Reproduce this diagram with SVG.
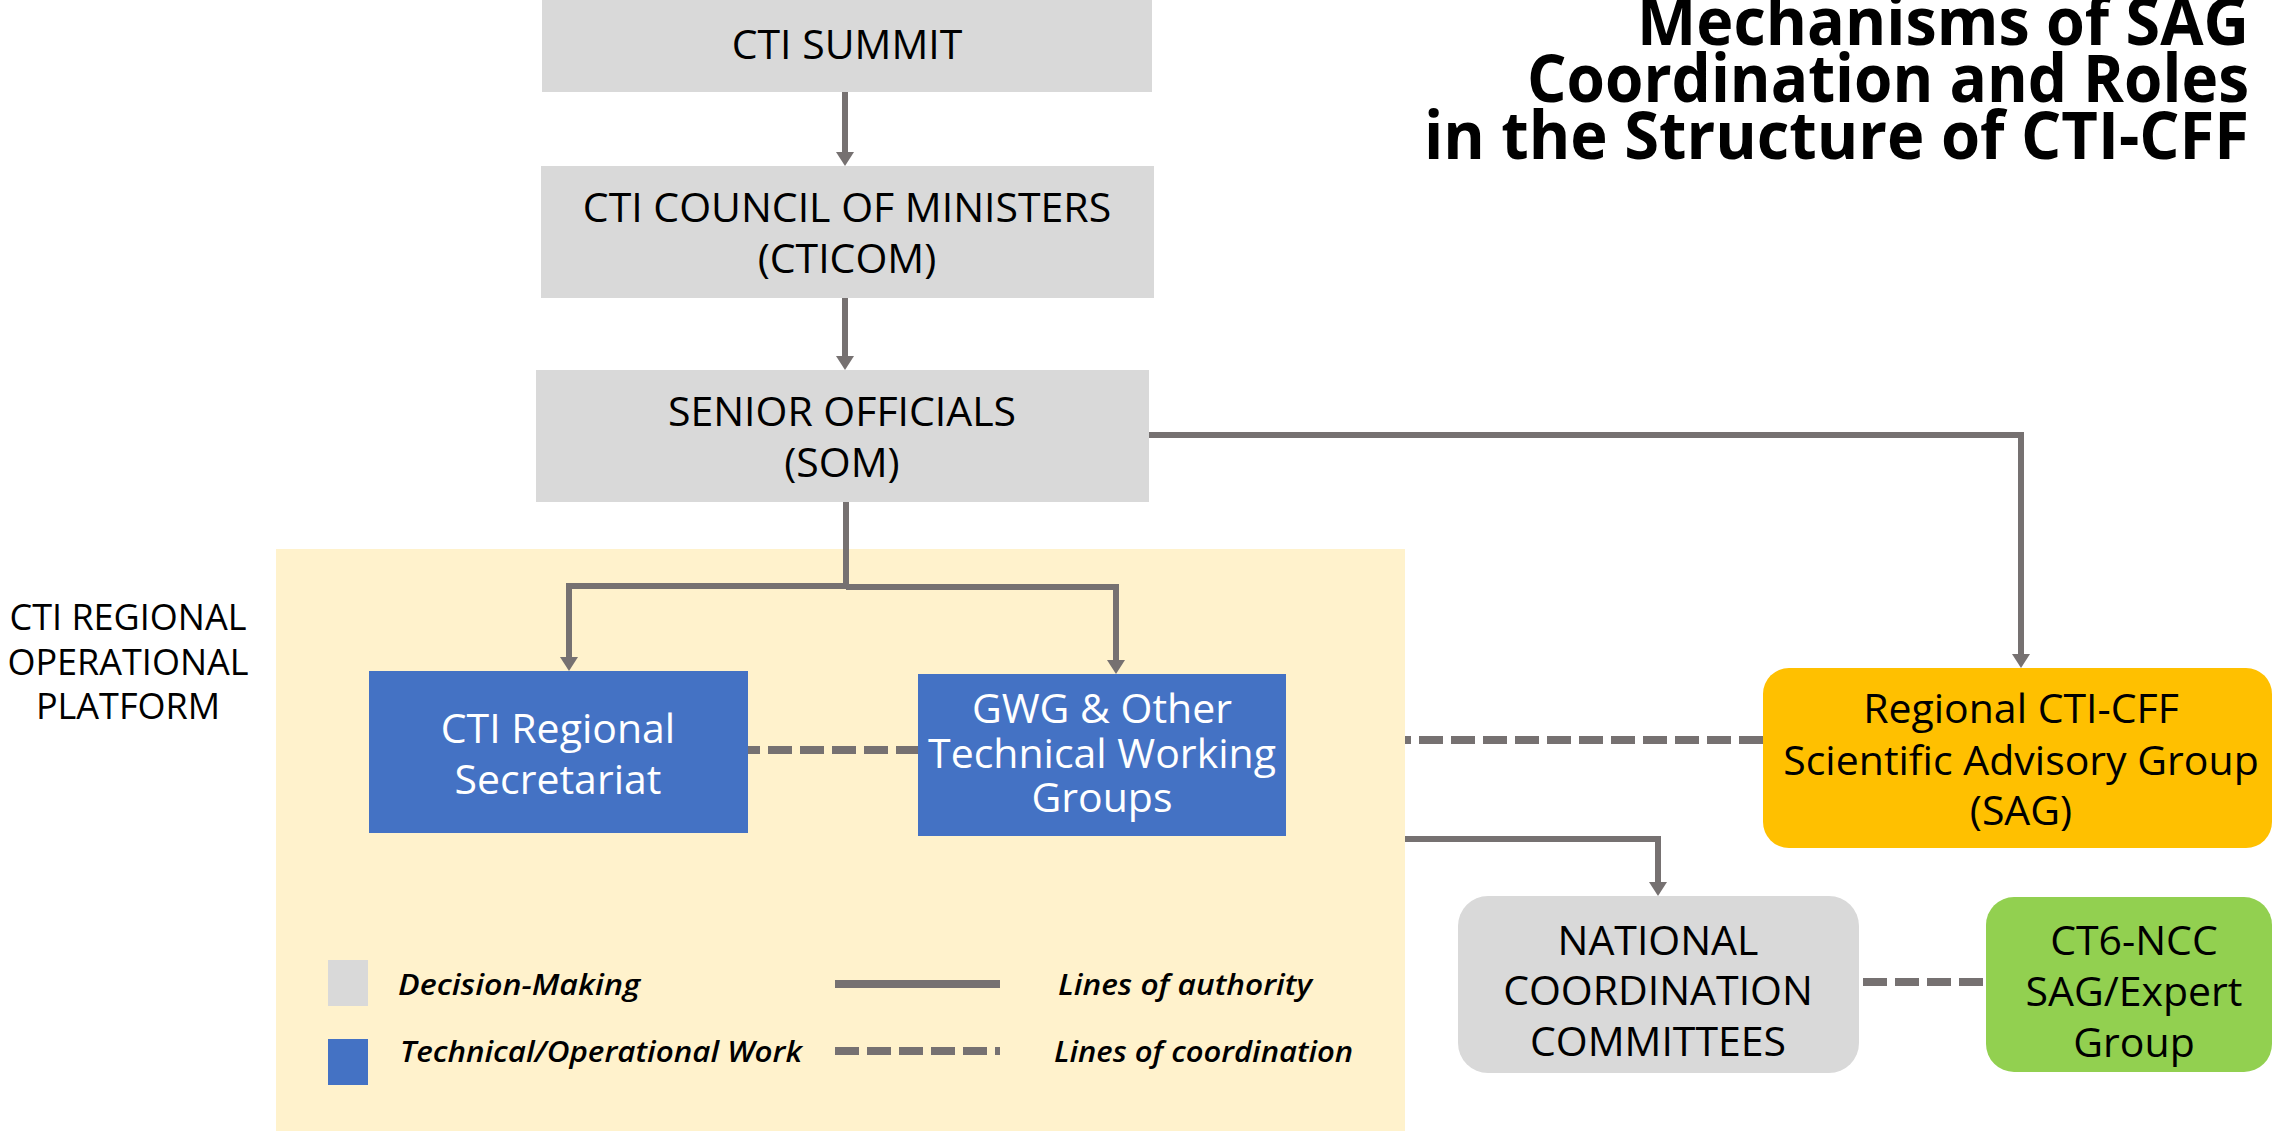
<svg xmlns="http://www.w3.org/2000/svg" width="2273" height="1131" viewBox="0 0 2273 1131">
<defs>
<style>
.t{font-family:"Open Sans","Liberation Sans",sans-serif;font-size:41px;fill:#000;text-anchor:middle}
.w{fill:#fff}
.lbl{font-family:"Open Sans","Liberation Sans",sans-serif;font-size:36px;fill:#000;text-anchor:middle}
.leg{font-family:"Open Sans","Liberation Sans",sans-serif;font-size:29px;font-style:italic;font-weight:600;fill:#000}
.title{font-family:"Open Sans","Liberation Sans",sans-serif;font-size:67px;font-weight:700;fill:#000;text-anchor:end}
.gray{fill:#D9D9D9}
.blue{fill:#4472C4}
.solid{fill:none;stroke:#767171;stroke-width:6;stroke-linejoin:miter}
.dash{fill:none;stroke:#767171;stroke-width:8;stroke-dasharray:24 8}
</style>
<marker id="arr" viewBox="0 0 14 18" refX="0" refY="9" markerWidth="14" markerHeight="18" markerUnits="userSpaceOnUse" orient="auto">
<path d="M0,0 L14,9 L0,18 z" fill="#767171"/>
</marker>
</defs>
<rect width="2273" height="1131" fill="#fff"/>
<g id="platform">
<rect x="276" y="549" width="1129" height="582" fill="#FFF2CC"/>
<text class="lbl" x="128" y="630">CTI REGIONAL</text>
<text class="lbl" x="128" y="675">OPERATIONAL</text>
<text class="lbl" x="128" y="719">PLATFORM</text>
</g>
<g id="title">
<text class="title" x="2249" y="44.5" textLength="612" lengthAdjust="spacingAndGlyphs">Mechanisms of SAG</text>
<text class="title" x="2249" y="101.7" textLength="722" lengthAdjust="spacingAndGlyphs">Coordination and Roles</text>
<text class="title" x="2249" y="159.3" textLength="825" lengthAdjust="spacingAndGlyphs">in the Structure of CTI-CFF</text>
</g>
<g id="connectors">
<path class="solid" d="M845,92 V152" marker-end="url(#arr)"/>
<path class="solid" d="M845,298 V356" marker-end="url(#arr)"/>
<path class="solid" d="M846,502 V586 H569 V657" marker-end="url(#arr)"/>
<path class="solid" d="M846,587 H1116 V660" marker-end="url(#arr)"/>
<path class="solid" d="M1149,435 H2021 V654" marker-end="url(#arr)"/>
<path class="solid" d="M1405,839 H1658 V882" marker-end="url(#arr)"/>
<path class="dash" d="M748,750 H918" stroke-dashoffset="12"/>
<path class="dash" d="M1405,740 H1763" stroke-dashoffset="18"/>
<path class="dash" d="M1859,982 H1986" stroke-dashoffset="-4"/>
</g>
<g id="summit">
<rect class="gray" x="542" y="0" width="610" height="92"/>
<text class="t" x="847" y="59">CTI SUMMIT</text>
</g>
<g id="cticom">
<rect class="gray" x="541" y="166" width="613" height="132"/>
<text class="t" x="847" y="222">CTI COUNCIL OF MINISTERS</text>
<text class="t" x="847" y="273">(CTICOM)</text>
</g>
<g id="som">
<rect class="gray" x="536" y="370" width="613" height="132"/>
<text class="t" x="842" y="426">SENIOR OFFICIALS</text>
<text class="t" x="842" y="477">(SOM)</text>
</g>
<g id="secretariat">
<rect class="blue" x="369" y="671" width="379" height="162"/>
<text class="t w" x="558" y="743">CTI Regional</text>
<text class="t w" x="558" y="794">Secretariat</text>
</g>
<g id="gwg">
<rect class="blue" x="918" y="674" width="368" height="162"/>
<text class="t w" x="1102" y="723">GWG &amp; Other</text>
<text class="t w" x="1102" y="768">Technical Working</text>
<text class="t w" x="1102" y="812">Groups</text>
</g>
<g id="sag">
<rect x="1763" y="668" width="509" height="180" rx="26" fill="#FFC000"/>
<text class="t" x="2021" y="723">Regional CTI-CFF</text>
<text class="t" x="2021" y="775">Scientific Advisory Group</text>
<text class="t" x="2021" y="825">(SAG)</text>
</g>
<g id="ncc">
<rect class="gray" x="1458" y="896" width="401" height="177" rx="30"/>
<text class="t" x="1658" y="955">NATIONAL</text>
<text class="t" x="1658" y="1005">COORDINATION</text>
<text class="t" x="1658" y="1056">COMMITTEES</text>
</g>
<g id="ct6">
<rect x="1986" y="897" width="286" height="175" rx="28" fill="#92D050"/>
<text class="t" x="2134" y="955">CT6-NCC</text>
<text class="t" x="2134" y="1006">SAG/Expert</text>
<text class="t" x="2134" y="1057">Group</text>
</g>
<g id="legend">
<rect class="gray" x="328" y="960" width="40" height="46"/>
<rect class="blue" x="328" y="1039" width="40" height="46"/>
<text class="leg" x="398" y="995" textLength="242" lengthAdjust="spacingAndGlyphs">Decision-Making</text>
<text class="leg" x="400" y="1062" textLength="402" lengthAdjust="spacingAndGlyphs">Technical/Operational Work</text>
<path d="M835,984 H1000" fill="none" stroke="#767171" stroke-width="8"/>
<path class="dash" d="M835,1051 H1000"/>
<text class="leg" x="1058" y="995" textLength="254" lengthAdjust="spacingAndGlyphs">Lines of authority</text>
<text class="leg" x="1054" y="1062" textLength="299" lengthAdjust="spacingAndGlyphs">Lines of coordination</text>
</g>
</svg>
